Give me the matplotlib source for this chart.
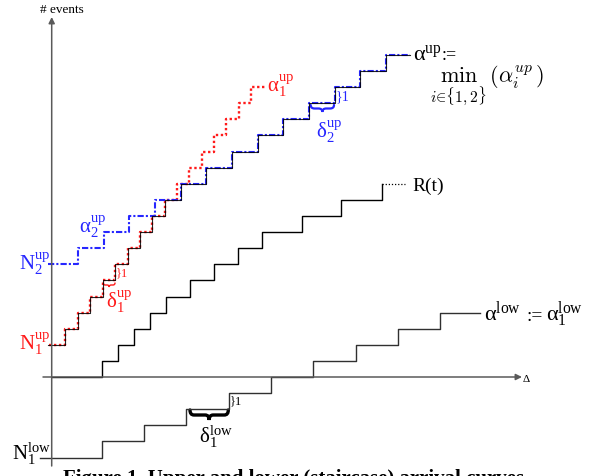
import numpy as np
import matplotlib
matplotlib.use('Agg')
import matplotlib.pyplot as plt
from matplotlib.path import Path
from matplotlib.patches import PathPatch
from matplotlib.font_manager import FontProperties

plt.rcParams['font.family'] = 'Liberation Serif'
plt.rcParams['mathtext.fontset'] = 'custom'
plt.rcParams['mathtext.rm'] = 'Liberation Serif'
plt.rcParams['mathtext.it'] = 'Liberation Serif:italic'
plt.rcParams['mathtext.default'] = 'rm'

# ---- data: step curves (x = delta in px-like units, y = # events) ----
n1_up = 2                       # alpha_1^up, red
a1_start = 49
a1_steps = [65, 77.5, 90, 102.5, 115, 127.5, 140, 152.3, 164.7, 177, 189.3,
            201.7, 214, 226.3, 238.7, 251]
a1_end = 262

n2_up = 7                       # alpha_2^up, blue
a2_start = 48
a2_steps = [78, 103.7, 129.3, 155, 180.7, 206.3, 232, 257.7, 283.3, 309,
            334.7, 360.3, 386]
a2_end = 410

r_start = 52                    # R(t)
r_steps = [101.7, 117.7, 133.7, 150, 166, 189.7, 213.7, 237.7, 261.7, 301.7,
           341.3, 381.7]
r_end = 382
r_dots = 405

n1_low = -5                     # alpha^low = alpha_1^low
low_start = 40
low_steps = [101.7, 144, 186.3, 228.6, 271, 313.3, 355.6, 398, 440]
low_end = 480

caption = 'Figure 1. Upper and lower (staircase) arrival curves'

PX = 16.1          # pixels per event
Y0 = 378           # pixel row of the delta axis
W, H = 599, 477


def py(p):
    """pixel row -> event units"""
    return (Y0 - p) / PX


def stair(n0, x0, steps, x1):
    xs = [x0] + list(steps) + [x1]
    ys = [n0 + k for k in range(len(steps) + 1)]
    return xs, ys + [ys[-1]]


def level(n0, steps, x):
    return n0 + np.searchsorted(steps, x, side='right')


def brace(ax, x0, x1, top, depth, color, lw):
    """horizontal curly brace, tip pointing down (pixel rows)"""
    y = py(top)
    d = depth / PX
    xm = (x0 + x1) / 2
    q = min(4, (x1 - x0) / 6)
    verts = [(x0, y), (x0, y - d / 2), (x0 + q, y - d / 2),
             (xm - q, y - d / 2), (xm, y - d / 2), (xm, y - d),
             (xm, y - d / 2), (xm + q, y - d / 2),
             (x1 - q, y - d / 2), (x1, y - d / 2), (x1, y)]
    codes = [Path.MOVETO, Path.CURVE3, Path.CURVE3, Path.LINETO,
             Path.CURVE3, Path.CURVE3, Path.CURVE3, Path.CURVE3,
             Path.LINETO, Path.CURVE3, Path.CURVE3]
    ax.add_patch(PathPatch(Path(verts, codes), fill=False, ec=color, lw=lw,
                           capstyle='round'))


fig = plt.figure(figsize=(W / 100, H / 100), dpi=100)
ax = fig.add_axes([0, 0, 1, 1])
ax.set_xlim(0, W)
ax.set_ylim(py(H), py(0))
ax.axis('off')

axis_col = '#5a5a5a'
red = '#ff1a1a'
blue = '#2626ff'

# axes with arrows
ax.annotate('', xy=(51.7, py(18)), xytext=(51.7, py(467)),
            arrowprops=dict(arrowstyle='-|>', color=axis_col, lw=1.1,
                            mutation_scale=9, shrinkA=0, shrinkB=0))
ax.annotate('', xy=(522, 0), xytext=(43, 0),
            arrowprops=dict(arrowstyle='-|>', color=axis_col, lw=1.1,
                            mutation_scale=9, shrinkA=0, shrinkB=0))
ax.text(62, py(10), '# events', ha='center', va='center', fontsize=9.5)
ax.text(522, py(379), r'$\Delta$', ha='left', va='center', fontsize=8)

# alpha_1^up dotted red, alpha_2^up dash-dot blue (under the black min curve)
x, y = stair(n1_up, a1_start, a1_steps, a1_end)
ax.step(x, y, where='post', color=red, lw=1.7, ls=(0, (1, 1.1)))
ax.plot([a1_end, 266], [y[-1], y[-1]], color=red, lw=1.7, ls=(0, (1, 1.1)))
x, y = stair(n2_up, a2_start, a2_steps, a2_end)
ax.step(x, y, where='post', color=blue, lw=1.5, ls=(0, (3, 1, 1, 1)))

# alpha^up = min(alpha_1^up, alpha_2^up), black solid
xs = np.unique(np.concatenate([[a2_start], a1_steps, a2_steps]))
l1 = np.where(xs <= a1_end, level(n1_up, a1_steps, xs), np.inf)
l2 = level(n2_up, a2_steps, xs)
lmin = np.minimum(l1, l2)
ax.step(list(xs) + [a2_end], list(lmin) + [lmin[-1]], where='post',
        color='black', lw=0.8, alpha=0.85)

# R(t)
x, y = stair(0, r_start, r_steps, r_end)
ax.step(x, y, where='post', color='black', lw=1.0)
ax.plot([r_end, r_dots], [y[-1], y[-1]], color='black', lw=0.9,
        ls=(0, (1, 1.5)))

# alpha^low
x, y = stair(n1_low, low_start, low_steps, low_end)
ax.step(x, y, where='post', color='#303030', lw=1.0)

# labels
fs = 15
ax.text(413, py(60), r'$\alpha^{up}$', fontsize=16, va='baseline')
ax.text(442, py(60), ':=', fontsize=13, va='baseline')
cm = FontProperties(family='serif', size=16, math_fontfamily='cm')
ax.text(487, py(64),
        r'$\min_{\mathit{i}\in\{1,2\}}\,(\mathit{\alpha}_{\mathit{i}}^{\mathit{up}})$',
        fontproperties=cm, ha='center', va='top')
ax.text(267, py(92), r'$\alpha_1^{up}$', fontsize=fs, va='baseline', color=red)
ax.text(79, py(233), r'$\alpha_2^{up}$', fontsize=fs, va='baseline', color=blue)
ax.text(19, py(270), r'$N_2^{up}$', fontsize=fs, va='baseline', color=blue)
ax.text(19, py(350), r'$N_1^{up}$', fontsize=fs, va='baseline', color=red)
ax.text(12, py(460), r'$N_1^{low}$', fontsize=fs, va='baseline')
ax.text(412, py(186), 'R(t)', fontsize=14, va='center')
ax.text(484, py(321), r'$\alpha^{low}$', fontsize=16, va='baseline')
ax.text(526, py(321), ':=', fontsize=14, va='baseline')
ax.text(546, py(321), r'$\alpha_1^{low}$', fontsize=16, va='baseline')

# delta annotations
brace(ax, 310.7, 334, 106, 7, blue, 1.6)
ax.text(316, py(138), r'$\delta_2^{up}$', fontsize=fs, va='baseline', color=blue)
ax.text(336, py(97), '}1', fontsize=10, va='center', color=blue)

brace(ax, 103.3, 115, 284, 4, red, 1.0)
ax.text(106, py(308), r'$\delta_1^{up}$', fontsize=fs, va='baseline', color=red)
ax.text(116, py(273), '}1', fontsize=9, va='center', color=red)

brace(ax, 190, 228.3, 411, 10, 'black', 2.4)
ax.text(199, py(443), r'$\delta_1^{low}$', fontsize=fs, va='baseline')
ax.text(230, py(401), '}1', fontsize=9, va='center')

# caption, only its upper part is inside the picture
ax.text(63, py(469), caption, fontsize=15, fontweight='bold', va='top',
        ha='left')

fig.savefig('out.png', dpi=100)
